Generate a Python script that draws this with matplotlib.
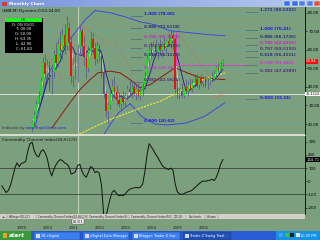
import numpy as np
import pandas as pd
import matplotlib
matplotlib.use("Agg")
import matplotlib.pyplot as plt
from matplotlib.patches import Rectangle
from matplotlib.transforms import blended_transform_factory

W, H = 320, 240
GREEN = '#7c9f7e'

# ---- data (monthly bars, first bar = Aug 1999) ----
first_bar = 7  # months after Jan 1999
opens = [18, 21, 25, 31, 35,
         43, 53, 47, 52, 41, 48, 57, 53, 63, 60, 68, 62,
         72, 64, 46, 52, 50, 61.6, 70, 62, 56, 50, 60, 66,
         61, 55, 62, 58, 48, 36, 27, 30, 36, 40, 37, 33,
         31, 34, 32, 35, 39, 37, 40, 36, 39, 35, 38, 41,
         46, 55, 60, 58, 63, 59, 62, 60, 63, 61, 65, 63,
         68, 66, 39, 36, 38, 35, 40, 38, 41, 39, 42, 44,
         41, 45, 42, 44, 41, 43, 45, 44, 47, 50, 49, 53]
highs = [22, 27, 33, 38, 45,
         56, 58, 55, 54, 50, 60, 64, 66, 70, 72, 74, 78.06,
         75, 67, 56, 58, 63.35, 73.5, 72, 68, 60, 62, 70, 69,
         64, 65, 63, 60, 50, 38, 32, 38, 44, 46, 41, 37,
         36, 38, 37, 41, 43, 42, 43, 41, 42, 40, 42, 48,
         57, 62, 64, 65, 66, 64, 66, 64, 67, 66, 69, 70.41,
         70, 67, 44, 40, 42, 41, 44, 43, 45, 44, 47, 47,
         46, 47, 46, 46, 45, 46, 48, 49, 51, 53, 54, 55]
lows = [15.5, 19, 23, 28, 33,
        40, 44, 42, 38, 36, 45, 50, 51, 56, 55, 58, 60,
        60, 42, 40, 44, 42.9, 58, 58, 52, 45, 48, 57, 58,
        52, 53, 54, 45, 34, 24, 20.62, 28, 33, 34, 30, 29,
        28, 30, 29, 33, 35, 34, 35, 33, 34, 33, 35, 39,
        44, 52, 55, 56, 57, 55, 58, 56, 60, 58, 62, 61,
        60, 36, 34, 33.24, 34, 34, 36, 35, 38, 37, 40, 40,
        39, 41, 40, 40, 39, 41, 43, 43, 45, 48, 48, 51]
closes = [21, 25, 31, 35, 43,
          53, 47, 52, 41, 48, 57, 53, 63, 60, 68, 62, 72,
          64, 46, 52, 50, 61.6, 70, 62, 56, 50, 60, 66, 61,
          55, 62, 58, 48, 36, 27, 30, 36, 40, 37, 33, 31,
          34, 32, 35, 39, 37, 40, 36, 39, 35, 38, 41, 46,
          55, 60, 58, 63, 59, 62, 60, 63, 61, 65, 63, 68,
          66, 39, 36, 38, 35, 40, 38, 41, 39, 42, 44, 41,
          45, 42, 44, 41, 43, 45, 44, 47, 50, 49, 53, 53.84]

# CCI(20), first value = Jun 1998
cci_start = -7
cci = [-35, -60, -85, -70, -30, 30, 100,
       140, 110, 135, 140, 150, 230, 285, 295, 230, 195, 185, 225,
       240, 215, 170, 90, 40, 90, 125, 150, 165, 155, 140, 130,
       110, 55, 60, 75, 120, 128, 75, 45, 30, 70, 112, 100,
       65, 75, 60, -30, -250, -270, -200, -130, -80, -70, -95, -110,
       -105, -110, -95, -75, -60, -55, -50, -47, -50, -45, -20, 70,
       200, 285, 260, 235, 205, 180, 150, 120, 105, 95, 88, 100,
       85, -20, -80, -95, -100, -95, -85, -80, -75, -65, -50, -35,
       -20, -5, 2, 0, 5, 8, 15, 5, 30, 75, 130, 164.71]

# band / slow average curves (year, price)
upper_t = [1999.69, 2000.19, 2000.73, 2001.23, 2001.62, 2002.0, 2002.58, 2003.15,
           2003.73, 2004.31, 2004.88, 2005.65, 2006.42, 2007.0]
upper_p = [18.0, 46.6, 60.1, 69.2, 76.2, 81.1, 80.0, 77.8, 75.1, 73.5, 70.3, 69.2, 68.1, 67.6]
lower_t = [2002.3, 2002.6, 2002.9, 2003.35, 2003.8, 2004.3, 2004.8, 2005.5, 2006.2, 2007.0]
lower_p = [13.5, 20.0, 26.0, 31.0, 24.0, 20.0, 19.5, 20.5, 24.0, 31.5]
slow_t = [2000.35, 2000.65, 2001.04, 2001.42, 2001.81, 2002.12, 2002.58, 2002.96, 2003.35,
          2003.73, 2004.12, 2004.5, 2005.08, 2005.46, 2006.04, 2007.0]
slow_p = [18.0, 23.9, 31.5, 38.5, 43.9, 47.6, 48.5, 47.6, 43.9, 39.6, 41.2, 44.9, 50.3, 48.1,
          44.9, 43.9]

# fib retracement swings (low, high)
fib_left = (20.62, 78.06)
fib_right = (33.24, 70.41)
ratios_left = [1.0, 0.886, 0.786, 0.707, 0.618, 0.5, 0.382, 0.0]
ratios_right = [1.272, 1.0, 0.886, 0.786, 0.707, 0.618, 0.5, 0.382, 0.0]

# yellow trend curve
yellow_t = [2001.4, 2002.6, 2004.1, 2004.5, 2005.3, 2006.0, 2007.0]
yellow_p = [14.6, 22.5, 30.4, 32.2, 37.9, 43.3, 47.6]

# red dotted trend segments (t0, p0, t1, p1)
red_lines = [(2000.95, 77.3, 2002.5, 63.5),
             (2002.75, 64.9, 2003.5, 46.5),
             (2005.2, 69.2, 2006.5, 43.8),
             (2006.5, 34.0, 2007.0, 36.8),
             (2000.2, 56.0, 2000.75, 44.0),
             (2001.9, 32.4, 2002.4, 37.8)]

years = list(range(1999, 2007))
price_ticks = [20, 30, 40, 50, 60, 70, 80]
cci_ticks = [-200, -100, 0, 100, 200, 300]

# ---- figure & window chrome ----
fig = plt.figure(figsize=(3.2, 2.4), dpi=100)
fig.patch.set_facecolor(GREEN)
bg = fig.add_axes([0, 0, 1, 1])
bg.axis('off')

def rect(ax, x, y, w, h, color, ec='none', lw=0, z=1):
    ax.add_patch(Rectangle((x, y), w, h, facecolor=color, edgecolor=ec, lw=lw, zorder=z))

grad = np.linspace(0, 1, 200)
c0, c1 = np.array([0.47, 0.58, 0.86]), np.array([0.72, 0.79, 0.94])
bg.imshow((c0[None, :] * (1 - grad[:, None]) + c1[None, :] * grad[:, None])[None, :, :],
          extent=(0, W, 7, 0), aspect='auto')
bg.text(9, 3.6, "Monthly Chart", fontsize=3.2, color='white', va='center', weight='bold')
rect(bg, 1.5, 1.5, 5, 4, '#c84040')
for x0, col in [(284, '#3a6ee8'), (291.5, '#3a6ee8'), (299, '#4f7de4'), (306.5, '#4f7de4'), (314, '#d8583a')]:
    rect(bg, x0, 0.7, 6, 5.6, col, ec='white', lw=0.3)

rect(bg, 0, 7, W, 224, GREEN)
rect(bg, 0, 134, 305, 2, '#d7dccd')
rect(bg, 0, 214, 305, 5, '#d4d0c8')
tabs = ["\u25c4\u25ba", "Bollinger(20,2,C)", "Commodity Channel Index(20,HLC/3)",
        "Commodity Channel Index(4)", "Commodity Channel Index(50)", "CCI(14)", "Stochastic", "Volume"]
tx = 2
for lab in tabs:
    bg.text(tx, 216.6, lab, fontsize=1.9, va='center', color='#202020')
    tx += 4 + len(lab) * 1.45
    bg.plot([tx - 2, tx - 2], [214.5, 218.5], color='#808080', lw=0.3)

# taskbar
rect(bg, 0, 231, W, 9, '#2a5bd6')
rect(bg, 0, 231, 31, 9, '#3a9a3a')
bg.text(9, 235.7, "start", fontsize=4.2, color='white', style='italic', weight='bold', va='center')
rect(bg, 2.5, 233, 4.5, 4.5, '#e8a030')
for x0, w0, lab, col in [(34, 46, "3B eSignal", '#3c7ff0'),
                         (83, 46, "eSignal Data Manager", '#3c7ff0'),
                         (132, 48, "Blogger: Trader Z Swi...", '#3c7ff0'),
                         (183, 48, "Trader Z Swing Tradi...", '#1f4fb4')]:
    rect(bg, x0, 232, w0, 7.5, col, ec='#1a3f9a', lw=0.3)
    rect(bg, x0 + 1.5, 233.5, 4, 4, '#d8d8e8')
    bg.text(x0 + 7, 235.8, lab, fontsize=2.4, color='white', va='center')
rect(bg, 276, 231, 44, 9, '#1392e6')
bg.text(308, 235.8, "10:00 PM", fontsize=2.5, color='white', va='center', ha='center')
for i, col in enumerate(['#40a0ff', '#40c040', '#202020', '#e0e0e0']):
    rect(bg, 279 + i * 5.5, 233.3, 4, 4, col)

bg.set_xlim(0, W)
bg.set_ylim(H, 0)

# ---- chart axes ----
def fy(py):
    return 1 - py / H

xlim = (1999 - 17 / 26, 1999 + 288 / 26)
ax_p = fig.add_axes([0, fy(134), 305 / W, 127 / H])
ax_c = fig.add_axes([0, fy(214), 305 / W, 78 / H], sharex=ax_p)
ax_t = fig.add_axes([0, fy(231), 305 / W, 12 / H], sharex=ax_p)

for ax in (ax_p, ax_c):
    ax.set_facecolor(GREEN)
    for s in ('left', 'top', 'bottom'):
        ax.spines[s].set_visible(False)
    ax.spines['right'].set_color('black')
    ax.spines['right'].set_linewidth(0.6)
    ax.yaxis.tick_right()
    ax.tick_params(axis='x', bottom=False, labelbottom=False)
    ax.tick_params(axis='y', length=1.5, width=0.4, labelsize=2.9, pad=0.8, colors='black')

ax_p.set_xlim(*xlim)
ax_p.set_ylim(80 - (134 - 12.7) / 1.855, 80 + (12.7 - 7) / 1.855)
ax_p.set_yticks(price_ticks)
ax_p.set_yticklabels([f"{v:.2f}" for v in price_ticks])
ax_p.hlines(price_ticks, *xlim, color='#68a79f', lw=0.45, zorder=1)

t = 1999 + np.arange(first_bar, first_bar + len(closes)) / 12
o, hi, lo, c = map(np.array, (opens, highs, lows, closes))
s = pd.Series(c)
ax_p.plot(upper_t, upper_p, color='#3a3ae6', lw=0.6, zorder=3)
ax_p.plot(lower_t, lower_p, color='#3a3ae6', lw=0.6, zorder=3)
ax_p.plot(slow_t, slow_p, color='#8a1a10', lw=0.7, zorder=3)
ax_p.plot(t, s.rolling(6, min_periods=2).mean(), color='#1a1a80', lw=0.6, zorder=4)
ax_p.plot(t, s.rolling(3, min_periods=1).mean(), color='#d8d8d0', lw=0.5, zorder=4)
ax_p.plot(yellow_t, yellow_p, color='#f0f030', lw=0.8, ls=(0, (2, 1)), zorder=3)
for t0, p0, t1, p1 in red_lines:
    ax_p.plot([t0, t1], [p0, p1], color='#d8604a', lw=0.6, ls=(0, (1, 1.6)), zorder=3)

ax_p.vlines(t, lo, hi, color='#55508a', lw=0.5, zorder=5)
body_col = np.where(c >= o, '#18e018', '#ee1010')
ax_p.bar(t, np.maximum(np.abs(c - o), 0.4), bottom=np.minimum(o, c), width=0.062,
         color=body_col, lw=0, zorder=6)

# magenta 0.5 marker of right swing
ax_p.plot([2005.1, 2007.8], [51.825, 51.825], color='#d040d0', lw=0.6, zorder=4)
ax_p.plot([2005.1, 2005.1], [51.825, 69.5], color='#d040d0', lw=0.6, zorder=4)

fib_colors = {1.272: '#303090', 1.0: '#1818e8', 0.886: '#283070', 0.786: '#b830b8',
              0.707: '#503070', 0.618: '#283070', 0.5: '#c838c8', 0.382: '#503070', 0.0: '#1818e8'}

def fmt(v):
    return ('%.4f' % v).rstrip('0').rstrip('.')

def draw_fib(swing, ratios, l0, l1, tx):
    low, high = swing
    for r in ratios:
        v = low + r * (high - low)
        ax_p.plot([l0, l1], [v, v], color='#5d6d78', lw=0.6, zorder=4)
        ax_p.text(tx, v, f"{r:.3f} ({fmt(v)})", fontsize=2.9, weight='bold',
                  color=fib_colors[r], va='bottom', ha='left', zorder=7)

draw_fib(fib_left, ratios_left, 2003.38, 2003.81, 2003.88)
draw_fib(fib_right, ratios_right, 2007.81, 2008.23, 2008.35)

# cursor
cur_t, cur_p = 1999 + 28 / 12, 36.1224
ax_p.axhline(cur_p, color='#d6e0d4', lw=0.7, zorder=2)
ax_p.axvline(cur_t, color='#bcd0bc', lw=0.8, zorder=2)
ax_c.axvline(cur_t, color='#bcd0bc', lw=0.8, zorder=2)

tr_p = blended_transform_factory(ax_p.transAxes, ax_p.transData)
ax_p.text(1.004, closes[-1], f"{closes[-1]:.2f}", transform=tr_p, fontsize=2.7, color='white',
          va='center', bbox=dict(boxstyle='square,pad=0.15', fc='#f01010', ec='none'))
ax_p.text(1.002, cur_p, "36.1224", transform=tr_p, fontsize=2.4, color='black',
          va='center', bbox=dict(boxstyle='square,pad=0.1', fc='white', ec='none'))

ax_p.text(0.006, 0.965, "($BB,M) Dynamic,0:00-24:00", transform=ax_p.transAxes,
          fontsize=2.9, color='black', va='center')
ax_p.text(0.006, 0.045, "Indicator by", transform=ax_p.transAxes, fontsize=2.7,
          color='#303030', va='center')
ax_p.text(0.085, 0.045, "www.TradeGenie.com", transform=ax_p.transAxes, fontsize=2.7,
          color='#2020d0', va='center', zorder=8)

# CCI panel
tc = 1999 + np.arange(cci_start, cci_start + len(cci)) / 12
ax_c.set_ylim(-248, 343)
ax_c.set_yticks(cci_ticks)
ax_c.set_yticklabels([str(v) for v in cci_ticks])
ax_c.axhline(100, color='#39463a', lw=0.6)
ax_c.axhline(-100, color='#39463a', lw=0.6)
ax_c.plot(tc, cci, color='#101410', lw=0.7, zorder=3)
ax_c.text(0.006, 0.955, "Commodity Channel Index(20,HLC/3)", transform=ax_c.transAxes,
          fontsize=2.9, color='#101010', va='center')
tr_c = blended_transform_factory(ax_c.transAxes, ax_c.transData)
ax_c.text(1.004, cci[-1], "164.71", transform=tr_c, fontsize=2.7, color='white',
          va='center', bbox=dict(boxstyle='square,pad=0.15', fc='black', ec='none'))

# time scale
ax_t.axis('off')
for y in years:
    ax_t.text(y, 0.28, str(y), fontsize=2.9, ha='left', va='center', color='#202020')
ax_t.text(cur_t, 0.78, "05/01", fontsize=2.7, ha='center', va='center', color='black',
          bbox=dict(boxstyle='square,pad=0.2', fc='white', ec='#404040', lw=0.3))
ax_t.set_ylim(0, 1)

# data window overlay (on top of everything)
ov = fig.add_axes([0, 0, 1, 1])
ov.set_xlim(0, W)
ov.set_ylim(H, 0)
ov.axis('off')
ov.patch.set_alpha(0)
dw = ["D: 05/31/01", "T: 00:00", "O: 50.00", "H: 63.35", "L: 42.90", "C: 61.60"]
rect(ov, 4, 17, 39, 36, 'black', ec='#c8c8c8', lw=0.4)
rect(ov, 5, 17.8, 37, 4.3, '#20f020', z=2)
ov.text(23.5, 20, "OK", fontsize=2.6, ha='center', va='center', color='#104010', zorder=3)
for i, line in enumerate(dw):
    ov.text(23.5, 24.6 + i * 4.9, line, fontsize=2.7, ha='center', va='center',
            color='white', zorder=3)

fig.savefig('out.png', dpi=100)
